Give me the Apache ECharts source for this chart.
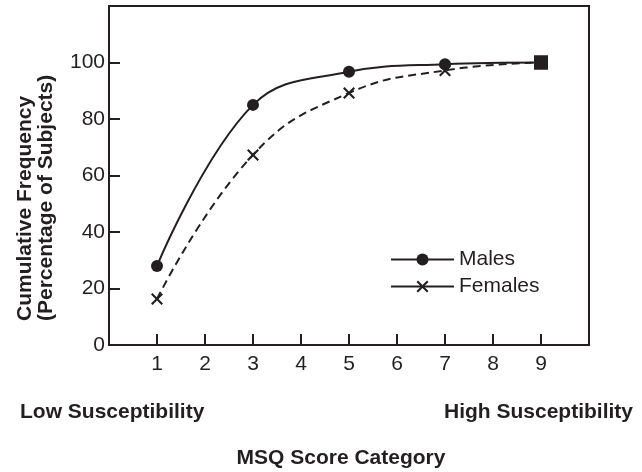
<!DOCTYPE html>
<html>
<head>
<meta charset="utf-8">
<script src="https://cdn.jsdelivr.net/npm/echarts@6/dist/echarts.min.js"></script>
<style>
  html, body { margin: 0; padding: 0; background: #fff; }
  #chart { width: 642px; height: 472px; }
</style>
</head>
<body>
<div id="chart"></div>
<script>
// MSQ score categories that have a measured point
const scoreCategories = [1, 3, 5, 7, 9];
// cumulative frequency, % of subjects
const malesPct = [28, 85, 96.7, 99.4, 100];
const femalesPct = [16.3, 67.3, 89.2, 97.2, 100];
// tick labels shown on the axes
const xTickLabels = [1, 2, 3, 4, 5, 6, 7, 8, 9];
const yTickLabels = [0, 20, 40, 60, 80, 100];

const ink = '#231f20';
const font = "'Liberation Sans', Arial, sans-serif";
// filled X glyph for the female markers
const crossPath = 'path://M0,1.5L1.5,0L6,4.5L10.5,0L12,1.5L7.5,6L12,10.5L10.5,12L6,7.5L1.5,12L0,10.5L4.5,6Z';

const toPoints = vals =>
  vals.map((v, i) => {
    const p = { value: [scoreCategories[i], v] };
    // last category is drawn as a filled square in the source figure
    if (i === vals.length - 1) {
      p.symbol = 'rect';
      p.symbolSize = 14;
    }
    return p;
  });

const chart = echarts.init(document.getElementById('chart'));

const option = {
  animation: false,
  grid: {
    left: 109,
    right: 53,
    top: 6,
    bottom: 127,
    show: true,
    borderColor: ink,
    borderWidth: 2,
  },
  legend: {
    orient: 'vertical',
    left: 390,
    top: 249,
    padding: 0,
    itemGap: 6,
    itemWidth: 63,
    itemHeight: 15,
    data: ['Males', 'Females'],
    lineStyle: { type: 'solid', width: 2, color: ink },
    textStyle: { fontFamily: font, fontSize: 21, color: ink },
  },
  xAxis: {
    type: 'value',
    min: 0,
    max: 10,
    interval: 1,
    axisLine: { show: true, lineStyle: { color: ink, width: 2 } },
    axisTick: { show: true, inside: true, length: 11, lineStyle: { color: ink, width: 2 } },
    splitLine: { show: false },
    axisLabel: {
      margin: 9,
      fontFamily: font,
      fontSize: 21,
      color: ink,
      formatter: v => (xTickLabels.includes(v) ? String(v) : ''),
    },
  },
  yAxis: {
    type: 'value',
    min: 0,
    max: 120,
    interval: 20,
    axisLine: { show: true, lineStyle: { color: ink, width: 2 } },
    axisTick: { show: true, inside: true, length: 11, lineStyle: { color: ink, width: 2 } },
    splitLine: { show: false },
    axisLabel: {
      margin: 4,
      fontFamily: font,
      fontSize: 21,
      color: ink,
      formatter: v => (yTickLabels.includes(v) ? String(v) : ''),
    },
  },
  series: [
    {
      name: 'Females',
      type: 'line',
      data: toPoints(femalesPct),
      smooth: 0.45,
      symbol: crossPath,
      symbolSize: 12,
      itemStyle: { color: ink },
      lineStyle: { color: ink, width: 2, type: [8, 5] },
      z: 2,
    },
    {
      name: 'Males',
      type: 'line',
      data: toPoints(malesPct),
      smooth: 0.4,
      symbol: 'circle',
      symbolSize: 12,
      itemStyle: { color: ink },
      lineStyle: { color: ink, width: 2 },
      z: 3,
    },
  ],
  graphic: [
    {
      type: 'text',
      x: 36,
      y: 321,
      rotation: Math.PI / 2,
      style: {
        text: 'Cumulative Frequency\n(Percentage of Subjects)',
        font: 'bold 21px ' + font,
        lineHeight: 21,
        fill: ink,
        textAlign: 'left',
        textVerticalAlign: 'middle',
      },
    },
    {
      type: 'text',
      x: 20,
      y: 412,
      style: {
        text: 'Low Susceptibility',
        font: 'bold 21px ' + font,
        fill: ink,
        textAlign: 'left',
        textVerticalAlign: 'middle',
      },
    },
    {
      type: 'text',
      x: 633,
      y: 412,
      style: {
        text: 'High Susceptibility',
        font: 'bold 21px ' + font,
        fill: ink,
        textAlign: 'right',
        textVerticalAlign: 'middle',
      },
    },
    {
      type: 'text',
      x: 341,
      y: 458,
      style: {
        text: 'MSQ Score Category',
        font: 'bold 21px ' + font,
        fill: ink,
        textAlign: 'center',
        textVerticalAlign: 'middle',
      },
    },
  ],
};

chart.setOption(option);
</script>
</body>
</html>
